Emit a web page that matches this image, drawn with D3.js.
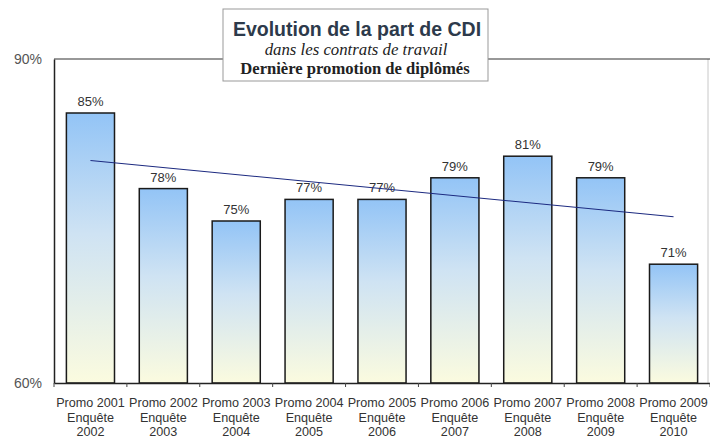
<!DOCTYPE html>
<html>
<head>
<meta charset="utf-8">
<script src="https://cdn.jsdelivr.net/npm/d3@7"></script>
<style>
  html, body { margin: 0; padding: 0; background: #fff; }
  svg { display: block; }
</style>
</head>
<body>
<svg id="chart" width="710" height="440"></svg>
<script>
/* CDI share by graduating class — bar chart + linear trend. */
var promos   = ['Promo 2001', 'Promo 2002', 'Promo 2003', 'Promo 2004', 'Promo 2005',
                'Promo 2006', 'Promo 2007', 'Promo 2008', 'Promo 2009'];
var enquetes = ['2002', '2003', '2004', '2005', '2006', '2007', '2008', '2009', '2010'];
var cdiShare = [85, 78, 75, 77, 77, 79, 81, 79, 71];
var yTicks   = [60, 90];
var titleLines = ['Evolution de la part de CDI', 'dans les contrats de travail',
                  'Dernière promotion de diplômés'];

(function () {
  'use strict';

  var svg = d3.select('#chart');
  var left = 54, right = 710, top = 59, bottom = 383;

  var x = d3.scaleBand().domain(promos).range([left, right])
    .paddingInner(0.34).paddingOuter(0.17);
  var y = d3.scaleLinear().domain([60, 90]).range([bottom, top]);

  // bar gradient: blue at top, pale yellow at bottom
  var grad = svg.append('defs').append('linearGradient')
    .attr('id', 'barGrad').attr('x1', 0).attr('y1', 0).attr('x2', 0).attr('y2', 1);
  grad.append('stop').attr('offset', '0%').attr('stop-color', '#93c4f6');
  grad.append('stop').attr('offset', '45%').attr('stop-color', '#cfe3f3');
  grad.append('stop').attr('offset', '100%').attr('stop-color', '#fbfbdf');

  // plot frame
  svg.append('line').attr('x1', right - 2).attr('x2', right - 2)
    .attr('y1', top).attr('y2', bottom).attr('stroke', '#c8c8c8');
  svg.append('line').attr('x1', left).attr('x2', right)
    .attr('y1', top).attr('y2', top).attr('stroke', '#333').attr('stroke-width', 1.2);

  // bars
  svg.append('g').selectAll('rect').data(cdiShare).join('rect')
    .attr('x', function (d, i) { return x(promos[i]); })
    .attr('y', function (d) { return y(d); })
    .attr('width', x.bandwidth())
    .attr('height', function (d) { return bottom - y(d); })
    .attr('fill', 'url(#barGrad)')
    .attr('stroke', '#1a1a1a').attr('stroke-width', 1.5);

  // value labels
  svg.append('g').selectAll('text').data(cdiShare).join('text')
    .attr('x', function (d, i) { return x(promos[i]) + x.bandwidth() / 2; })
    .attr('y', function (d) { return y(d) - 7; })
    .attr('text-anchor', 'middle')
    .attr('font-family', 'Liberation Sans, Arial, sans-serif')
    .attr('font-size', 13).attr('fill', '#333')
    .text(function (d) { return d + '%'; });

  // linear trend (least squares over the bar values)
  var n = cdiShare.length, mx = (n - 1) / 2, my = d3.mean(cdiShare);
  var sxy = d3.sum(cdiShare, function (d, i) { return (i - mx) * (d - my); });
  var sxx = d3.sum(cdiShare, function (d, i) { return (i - mx) * (i - mx); });
  var slope = sxy / sxx;
  var cx = function (i) { return x(promos[i]) + x.bandwidth() / 2; };
  svg.append('line')
    .attr('x1', cx(0)).attr('y1', y(my - slope * mx))
    .attr('x2', cx(n - 1)).attr('y2', y(my + slope * (n - 1 - mx)))
    .attr('stroke', '#1c2a80').attr('stroke-width', 1.1);

  // y axis
  var yAxis = svg.append('g').attr('transform', 'translate(' + left + ',0)')
    .call(d3.axisLeft(y).tickValues(yTicks).tickSize(0).tickPadding(12)
      .tickFormat(function (d) { return d + '%'; }));
  yAxis.select('.domain').attr('stroke', '#222').attr('stroke-width', 1.5);
  yAxis.selectAll('text').attr('font-family', 'Liberation Sans, Arial, sans-serif')
    .attr('font-size', 14).attr('fill', '#555');

  // x axis
  var xAxis = svg.append('g').attr('transform', 'translate(0,' + bottom + ')')
    .call(d3.axisBottom(x).tickSize(0).tickFormat(''));
  xAxis.select('.domain').attr('stroke', '#222').attr('stroke-width', 1.5);
  xAxis.selectAll('.sep').data(d3.range(n + 1)).join('line')
    .attr('class', 'sep')
    .attr('x1', function (i) { return left + i * x.step(); })
    .attr('x2', function (i) { return left + i * x.step(); })
    .attr('y1', 0).attr('y2', 4).attr('stroke', '#444');
  var lab = svg.append('g').selectAll('text').data(promos).join('text')
    .attr('text-anchor', 'middle')
    .attr('font-family', 'Liberation Sans, Arial, sans-serif')
    .attr('font-size', 12.6).attr('fill', '#333')
    .attr('transform', function (d) { return 'translate(' + (x(d) + x.bandwidth() / 2) + ',' + (bottom + 24) + ')'; });
  lab.append('tspan').attr('x', 0).attr('y', 0).text(function (d) { return d; });
  lab.append('tspan').attr('x', 0).attr('y', 14.5).text('Enquête');
  lab.append('tspan').attr('x', 0).attr('y', 29).text(function (d, i) { return enquetes[i]; });

  // title box
  svg.append('rect').attr('x', 223).attr('y', 9).attr('width', 265).attr('height', 72)
    .attr('fill', '#fff').attr('stroke', '#999');
  var tx = 356;
  svg.append('text').attr('x', tx + 1).attr('y', 36).attr('text-anchor', 'middle')
    .attr('font-family', 'Liberation Sans, Arial, sans-serif').attr('font-weight', 'bold')
    .attr('font-size', 19.5).attr('fill', '#2d3a4b').text(titleLines[0]);
  svg.append('text').attr('x', tx).attr('y', 55).attr('text-anchor', 'middle')
    .attr('font-family', 'Liberation Serif, Times New Roman, serif').attr('font-style', 'italic')
    .attr('font-size', 16.8).attr('fill', '#222').text(titleLines[1]);
  svg.append('text').attr('x', tx - 1).attr('y', 74).attr('text-anchor', 'middle')
    .attr('font-family', 'Liberation Serif, Times New Roman, serif').attr('font-weight', 'bold')
    .attr('font-size', 16.6).attr('fill', '#222').text(titleLines[2]);
})();
</script>
</body>
</html>
